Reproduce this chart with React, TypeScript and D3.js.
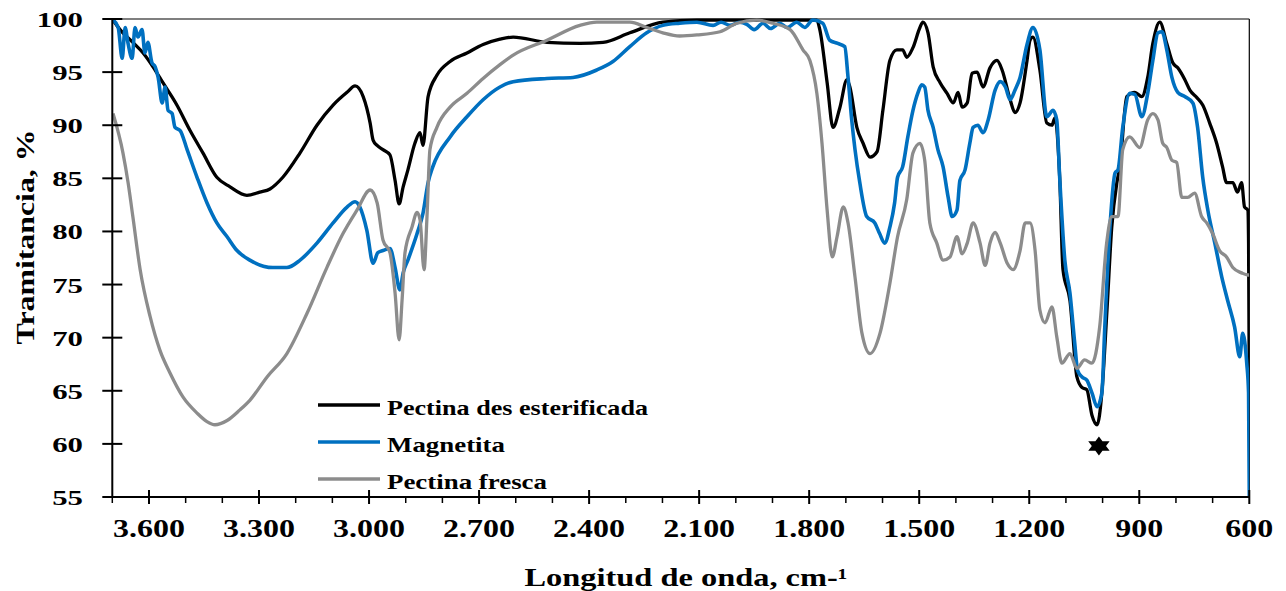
import * as d3 from "d3";

// ---- datos (número de onda cm-1, transmitancia %) ----
const pectinaDes: [number, number][] = [
  [3698, 99.9], [3679, 99.0], [3644, 97.8], [3616, 96.8], [3589, 95.5], [3562, 94.0],
  [3524, 91.9], [3488, 89.5], [3453, 87.4], [3415, 85.1], [3379, 84.2], [3333, 83.4],
  [3298, 83.7], [3270, 84.0], [3235, 85.1], [3188, 87.4], [3142, 90.0], [3098, 91.9],
  [3060, 93.1], [3038, 93.7], [3016, 92.7], [2997, 90.2], [2989, 88.6], [2978, 88.1],
  [2962, 87.7], [2943, 87.2], [2929, 84.8], [2918, 82.6], [2907, 84.2], [2894, 85.8],
  [2875, 88.3], [2861, 89.3], [2853, 88.1], [2839, 92.7], [2815, 94.7], [2779, 96.0],
  [2733, 96.8], [2689, 97.6], [2643, 98.1], [2607, 98.3], [2515, 97.8], [2425, 97.7],
  [2362, 97.8], [2289, 98.7], [2199, 99.7], [2106, 99.9], [1935, 99.9], [1779, 99.9],
  [1771, 99.0], [1751, 94.0], [1735, 89.8], [1716, 91.7], [1697, 94.3], [1689, 93.6],
  [1670, 89.8], [1653, 88.3], [1634, 87.0], [1615, 87.5], [1599, 91.4], [1580, 96.1],
  [1561, 97.1], [1545, 97.1], [1534, 96.4], [1517, 97.3], [1498, 99.2], [1490, 99.7],
  [1476, 98.7], [1462, 95.5], [1443, 94.0], [1424, 93.0], [1407, 92.1], [1394, 93.1],
  [1383, 91.7], [1369, 92.1], [1356, 94.9], [1342, 95.0], [1326, 93.6], [1307, 95.4],
  [1288, 96.1], [1274, 95.2], [1252, 92.4], [1239, 91.2], [1225, 92.1], [1206, 96.1],
  [1198, 98.0], [1190, 98.3], [1171, 95.2], [1152, 90.2], [1138, 90.0], [1130, 90.7],
  [1117, 85.1], [1108, 76.4], [1089, 73.5], [1070, 66.3], [1056, 65.3], [1043, 65.1],
  [1029, 62.7], [1015, 61.8], [1002, 64.8], [988, 72.6], [975, 80.4], [961, 84.6],
  [953, 86.1], [934, 92.7], [912, 93.1], [893, 92.7], [877, 94.5], [863, 97.7],
  [844, 99.7], [825, 97.7], [809, 95.9], [795, 95.4], [776, 94.3], [762, 93.3],
  [743, 92.6], [727, 91.9], [708, 90.2], [689, 88.3], [673, 86.1], [662, 84.6],
  [645, 84.6], [632, 83.7], [621, 84.6], [613, 82.3], [604, 82.0], [602, 78.9],
  [600, 65.1],
];

const magnetita: [number, number][] = [
  [3698, 99.9], [3684, 99.2], [3673, 96.3], [3665, 99.2], [3657, 97.7], [3646, 96.3],
  [3638, 99.2], [3630, 98.3], [3619, 99.0], [3611, 96.8], [3603, 97.8], [3592, 95.9],
  [3583, 95.5], [3575, 94.5], [3564, 92.1], [3556, 93.6], [3548, 91.4], [3537, 91.1],
  [3529, 89.8], [3515, 89.5], [3496, 87.7], [3469, 85.1], [3442, 82.7], [3415, 80.8],
  [3387, 79.5], [3360, 78.2], [3325, 77.3], [3262, 76.6], [3224, 76.6], [3188, 77.3],
  [3142, 78.9], [3098, 80.8], [3060, 82.3], [3038, 82.8], [3025, 82.3], [3006, 80.1],
  [2989, 77.0], [2976, 78.0], [2962, 78.2], [2943, 78.4], [2929, 76.6], [2916, 74.5],
  [2907, 76.1], [2894, 77.3], [2869, 79.8], [2853, 81.7], [2839, 84.6], [2826, 86.1],
  [2779, 88.9], [2733, 90.8], [2689, 92.4], [2643, 93.6], [2607, 94.1], [2515, 94.4],
  [2444, 94.5], [2379, 95.2], [2335, 96.0], [2289, 97.4], [2243, 98.7], [2199, 99.4],
  [2153, 99.6], [2106, 99.7], [2062, 99.4], [2040, 99.7], [2016, 99.4], [1990, 99.7],
  [1970, 99.5], [1950, 99.0], [1926, 99.6], [1905, 99.1], [1880, 99.6], [1860, 99.2],
  [1834, 99.7], [1812, 99.2], [1790, 99.9], [1763, 99.6], [1744, 98.0], [1722, 97.7],
  [1703, 97.4], [1694, 94.5], [1684, 90.5], [1675, 87.7], [1662, 84.6], [1643, 81.4],
  [1621, 80.8], [1608, 79.8], [1594, 78.9], [1580, 80.4], [1567, 82.7], [1559, 85.1],
  [1545, 86.1], [1531, 88.9], [1517, 91.4], [1504, 93.0], [1493, 93.8], [1485, 93.6],
  [1476, 91.4], [1462, 89.8], [1449, 87.7], [1435, 86.1], [1421, 83.2], [1410, 81.4],
  [1397, 82.0], [1389, 84.8], [1375, 85.8], [1362, 88.3], [1353, 89.8], [1340, 90.0],
  [1326, 89.3], [1312, 90.5], [1293, 93.3], [1279, 94.1], [1265, 93.6], [1252, 92.4],
  [1239, 93.3], [1225, 94.5], [1206, 97.6], [1190, 99.2], [1171, 97.1], [1152, 90.8],
  [1135, 91.4], [1125, 90.5], [1117, 85.1], [1103, 77.3], [1089, 74.2], [1076, 69.5],
  [1068, 66.9], [1056, 66.3], [1043, 66.0], [1029, 64.8], [1015, 63.5], [1002, 64.8],
  [994, 71.0], [980, 80.4], [966, 85.5], [958, 85.8], [945, 89.8], [926, 93.0],
  [912, 92.9], [893, 90.8], [877, 93.0], [863, 96.1], [849, 98.7], [838, 98.8],
  [825, 97.1], [811, 94.5], [795, 93.1], [776, 92.7], [754, 92.1], [741, 89.8],
  [727, 85.1], [713, 82.0], [694, 78.9], [675, 75.7], [659, 73.5], [640, 71.0],
  [626, 68.2], [618, 70.4], [607, 67.6], [602, 64.8], [600, 55.0],
];

const pectinaFresca: [number, number][] = [
  [3698, 91.1], [3671, 87.4], [3657, 84.6], [3644, 81.4], [3624, 76.4], [3597, 72.0],
  [3570, 68.8], [3543, 66.7], [3507, 64.4], [3469, 62.9], [3442, 62.1], [3420, 61.8],
  [3387, 62.2], [3352, 63.2], [3325, 64.1], [3278, 66.3], [3224, 68.5], [3169, 72.3],
  [3115, 76.6], [3071, 79.8], [3033, 82.0], [2997, 83.9], [2978, 82.7], [2962, 79.2],
  [2943, 78.0], [2929, 74.2], [2918, 69.8], [2910, 73.5], [2902, 78.0], [2883, 80.4],
  [2869, 81.8], [2861, 81.1], [2850, 76.4], [2842, 81.4], [2834, 87.7], [2815, 89.8],
  [2779, 91.7], [2733, 93.0], [2689, 94.4], [2643, 95.7], [2607, 96.6], [2515, 98.0],
  [2425, 99.4], [2379, 99.7], [2289, 99.7], [2243, 99.2], [2199, 98.7], [2153, 98.4],
  [2106, 98.5], [2043, 98.8], [1997, 99.6], [1943, 99.9], [1899, 99.6], [1852, 99.0],
  [1817, 97.1], [1798, 96.1], [1779, 93.0], [1765, 88.3], [1751, 82.0], [1737, 77.6],
  [1724, 79.5], [1707, 82.3], [1694, 80.8], [1675, 75.7], [1656, 70.4], [1634, 68.5],
  [1607, 70.4], [1580, 75.1], [1559, 79.5], [1534, 83.0], [1517, 87.4], [1498, 88.3],
  [1485, 86.7], [1471, 80.8], [1452, 78.9], [1435, 77.3], [1416, 77.6], [1397, 79.5],
  [1383, 77.9], [1369, 78.9], [1353, 80.8], [1334, 78.9], [1320, 76.8], [1307, 78.9],
  [1293, 79.9], [1279, 78.9], [1260, 77.0], [1244, 76.4], [1225, 78.2], [1211, 80.8],
  [1198, 80.8], [1184, 78.2], [1171, 72.6], [1157, 71.4], [1138, 72.9], [1125, 70.1],
  [1111, 67.6], [1089, 68.5], [1070, 67.1], [1049, 67.9], [1029, 67.6], [1008, 71.0],
  [989, 78.9], [975, 81.4], [958, 81.4], [945, 87.7], [926, 88.9], [899, 87.9],
  [877, 90.5], [863, 91.1], [849, 90.5], [836, 88.3], [825, 87.9], [811, 86.7],
  [798, 86.5], [784, 83.2], [768, 83.2], [749, 83.6], [730, 81.4], [716, 80.8],
  [700, 79.8], [681, 78.2], [662, 77.6], [645, 76.6], [621, 76.1], [604, 75.9],
  [600, 75.9],
];

const seriesNames = ["Pectina des esterificada", "Magnetita", "Pectina fresca"];
const seriesColors = ["#000000", "#0070C0", "#8C8C8C"];
const xMajorTicks = [3600, 3300, 3000, 2700, 2400, 2100, 1800, 1500, 1200, 900, 600];
const yTicks = [55, 60, 65, 70, 75, 80, 85, 90, 95, 100];
const starPoint: [number, number] = [1010, 59.8];

const FONT = "'Liberation Serif', 'Times New Roman', serif";

export default function App() {
  const width = 1286;
  const height = 591;
  const left = 112.3, right = 1249.3, top = 19, bottom = 497;

  const x = d3.scaleLinear().domain([3700, 600]).range([left, right]);
  const y = d3.scaleLinear().domain([55, 100]).range([bottom, top]);

  const line = d3
    .line<[number, number]>()
    .x((d) => x(d[0]))
    .y((d) => y(d[1]))
    .curve(d3.curveMonotoneX);

  const fmt = d3
    .formatLocale({ decimal: ",", thousands: ".", grouping: [3], currency: ["", ""] })
    .format(",");

  const minorTicks = d3.range(3700, 599, -100).filter((v) => !xMajorTicks.includes(v));
  const data = [pectinaDes, magnetita, pectinaFresca];

  // estrella de seis puntas
  const [sx, sy] = [x(starPoint[0]), y(starPoint[1])];
  const R = 9.5;
  const tri = (rot: number) =>
    d3.range(3).map((i) => {
      const a = rot + (i * 2 * Math.PI) / 3;
      return [sx + Math.cos(a) * R * 1.3, sy + Math.sin(a) * R];
    });
  const starPath =
    "M" + tri(-Math.PI / 2).join("L") + "Z" + "M" + tri(Math.PI / 2).join("L") + "Z";

  return (
    <svg
      width={width}
      height={height}
      style={{ position: "absolute", left: 0, top: 0, background: "#fff" }}
      fontFamily={FONT}
      fontWeight="bold"
    >
      <defs>
        <clipPath id="plot">
          <rect x={left} y={top - 2} width={right - left} height={bottom - top + 2} />
        </clipPath>
      </defs>

      {/* marco */}
      <line x1={left} x2={right} y1={top} y2={top} stroke="#000" strokeWidth={1.2} />
      <line x1={right} x2={right} y1={top} y2={bottom} stroke="#000" strokeWidth={1.2} />

      {/* curvas */}
      <g clipPath="url(#plot)" fill="none" strokeLinejoin="round">
        {data.map((d, i) => (
          <path
            key={i}
            d={line(d) ?? ""}
            stroke={seriesColors[i]}
            strokeWidth={i === 1 ? 3.6 : 3.3}
          />
        ))}
      </g>

      {/* ejes */}
      <line x1={left} x2={left} y1={top} y2={bottom} stroke="#000" strokeWidth={2} />
      <line x1={left} x2={right} y1={bottom} y2={bottom} stroke="#000" strokeWidth={2} />

      {yTicks.map((v) => (
        <g key={v}>
          <line x1={left - 10} x2={left + 10} y1={y(v)} y2={y(v)} stroke="#000" strokeWidth={2} />
          <text
            transform={`translate(83,${y(v) + 8}) scale(1.4,1)`}
            textAnchor="end"
            fontSize={22}
          >
            {v}
          </text>
        </g>
      ))}

      {xMajorTicks.map((v) => (
        <g key={v}>
          <line x1={x(v)} x2={x(v)} y1={bottom - 7} y2={bottom + 7} stroke="#000" strokeWidth={2} />
          <text
            transform={`translate(${x(v)},537) scale(1.28,1)`}
            textAnchor="middle"
            fontSize={25}
          >
            {fmt(v)}
          </text>
        </g>
      ))}
      {minorTicks.map((v) => (
        <line key={v} x1={x(v)} x2={x(v)} y1={bottom} y2={bottom + 6} stroke="#000" strokeWidth={1.5} />
      ))}

      {/* títulos */}
      <text
        transform={`translate(34,237) rotate(-90)`}
        textAnchor="middle"
        fontSize={25}
        textLength={215}
        lengthAdjust="spacingAndGlyphs"
      >
        Tramitancia, %
      </text>
      <text
        x={686}
        y={586}
        textAnchor="middle"
        fontSize={25}
        textLength={323}
        lengthAdjust="spacingAndGlyphs"
      >
        Longitud de onda, cm-¹
      </text>

      {/* leyenda */}
      {seriesNames.map((name, i) => {
        const ly = 405 + i * 37;
        const lens = [261, 118, 160];
        return (
          <g key={name}>
            <line x1={318} x2={380} y1={ly} y2={ly} stroke={seriesColors[i]} strokeWidth={3.6} />
            <text
              x={387}
              y={ly + 10}
              fontSize={21}
              textLength={lens[i]}
              lengthAdjust="spacingAndGlyphs"
            >
              {name}
            </text>
          </g>
        );
      })}

      {/* marcador */}
      <path d={starPath} fill="#000" />
    </svg>
  );
}
